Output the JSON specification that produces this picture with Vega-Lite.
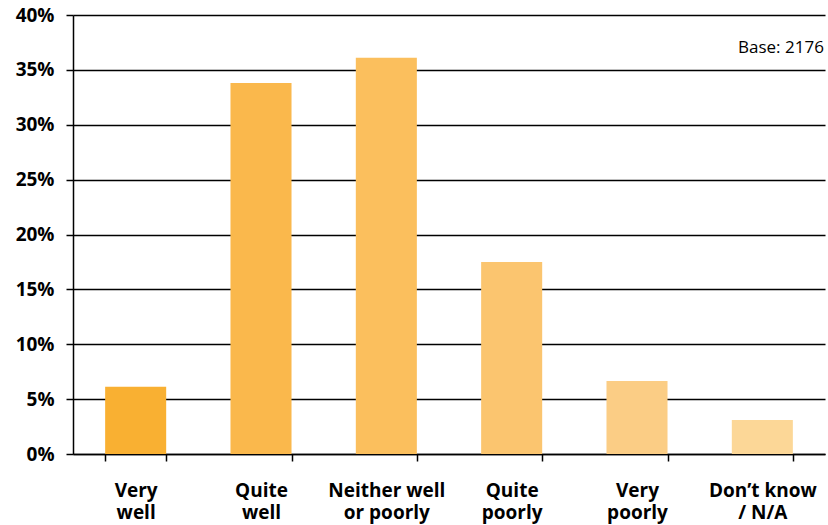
{
  "$schema": "https://vega.github.io/schema/vega-lite/v6.json",
  "width": 752,
  "height": 439,
  "autosize": {"type": "none"},
  "padding": {"left": 73, "top": 15, "right": 3, "bottom": 71},
  "background": "white",
  "config": {"view": {"stroke": null}, "font": "Open Sans"},
  "layer": [
    {
      "data": {"values": [
        {"answer": "Very|well", "share": 0.0613, "c": "#F9B032"},
        {"answer": "Quite|well", "share": 0.338, "c": "#FAB84C"},
        {"answer": "Neither well|or poorly", "share": 0.361, "c": "#FBBF5D"},
        {"answer": "Quite|poorly", "share": 0.175, "c": "#FBC56F"},
        {"answer": "Very|poorly", "share": 0.0665, "c": "#FBCD85"},
        {"answer": "Don’t know|/ N/A", "share": 0.031, "c": "#FCD797"}
      ]},
      "mark": {"type": "bar"},
      "encoding": {
        "x": {
          "field": "answer", "type": "nominal",
          "sort": ["Very|well", "Quite|well", "Neither well|or poorly", "Quite|poorly", "Very|poorly", "Don’t know|/ N/A"],
          "scale": {"paddingInner": 0.513, "paddingOuter": 0.2565},
          "axis": {
            "title": null, "labelAngle": 0, "tickBand": "extent",
            "domainColor": "black", "domainWidth": 1.5, "tickColor": "black", "tickWidth": 1.5, "tickSize": 7,
            "labelExpr": "split(datum.label, '|')", "labelLineHeight": 22,
            "labelFont": "Open Sans", "labelFontWeight": "bold", "labelFontSize": 19, "labelColor": "black",
            "labelPadding": 20, "labelBaseline": "top", "labelLimit": 0
          }
        },
        "y": {
          "field": "share", "type": "quantitative",
          "scale": {"domain": [0, 0.4]},
          "axis": {
            "title": null, "format": ".0%", "values": [0, 0.05, 0.1, 0.15, 0.2, 0.25, 0.3, 0.35, 0.4],
            "grid": true, "gridColor": "black", "gridWidth": 1.5, "gridOpacity": 1,
            "domainColor": "black", "domainWidth": 1.5, "tickColor": "black", "tickWidth": 1.5, "tickSize": 7,
            "labelFont": "Open Sans", "labelFontWeight": "bold", "labelFontSize": 19, "labelColor": "black",
            "labelPadding": 12
          }
        },
        "color": {"field": "c", "type": "nominal", "scale": null, "legend": null}
      }
    },
    {
      "data": {"values": [{"note": "Base: 2176", "answer": "Don’t know|/ N/A", "pos": 0.3654}]},
      "mark": {"type": "text", "align": "right", "baseline": "alphabetic", "fontSize": 17, "font": "Open Sans", "color": "black", "dx": 31},
      "encoding": {
        "x": {
          "field": "answer", "type": "nominal", "bandPosition": 1,
          "sort": ["Very|well", "Quite|well", "Neither well|or poorly", "Quite|poorly", "Very|poorly", "Don’t know|/ N/A"]
        },
        "y": {"field": "pos", "type": "quantitative"},
        "text": {"field": "note"}
      }
    }
  ]
}
